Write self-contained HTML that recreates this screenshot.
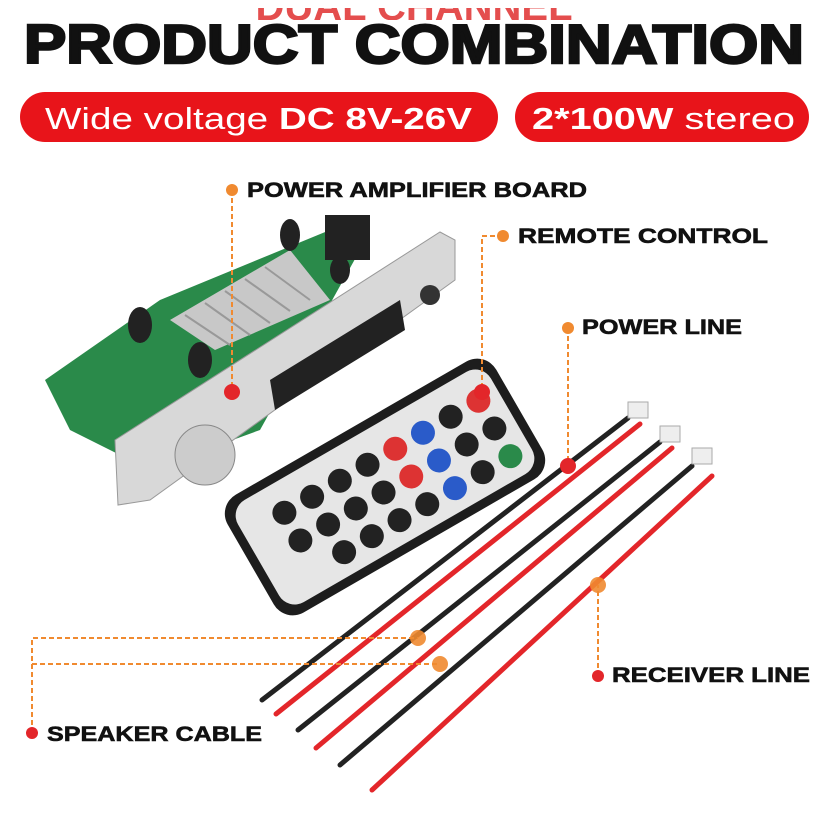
<!DOCTYPE html>
<html><head><meta charset="utf-8"><style>
body{margin:0;width:827px;height:820px;background:#fff;overflow:hidden;font-family:"Liberation Sans",sans-serif}
</style></head><body>
<svg width="827" height="820" viewBox="0 0 827 820" xmlns="http://www.w3.org/2000/svg" font-family="Liberation Sans, sans-serif">
<text x="414" y="20" text-anchor="middle" font-size="40" font-weight="900" fill="#e03030" opacity="0.85">DUAL CHANNEL</text>
<rect x="0" y="0" width="827" height="8" fill="#fff"/>
<rect x="0" y="20" width="827" height="10" fill="#fff"/>
<text x="414" y="63" text-anchor="middle" font-size="55" font-weight="900" fill="#111" stroke="#111" stroke-width="2.5" textLength="780" lengthAdjust="spacingAndGlyphs">PRODUCT COMBINATION</text>
<rect x="20" y="92" width="478" height="50" rx="25" fill="#e8141a"/>
<text x="45" y="129" font-size="31" fill="#fff" font-weight="bold" textLength="427" lengthAdjust="spacingAndGlyphs"><tspan font-weight="normal">Wide voltage </tspan>DC 8V-26V</text>
<rect x="515" y="92" width="294" height="50" rx="25" fill="#e8141a"/>
<text x="532" y="129" font-size="31" fill="#fff" font-weight="bold" textLength="263" lengthAdjust="spacingAndGlyphs">2*100W <tspan font-weight="normal">stereo</tspan></text>

<!-- board -->
<polygon points="45,380 160,300 330,230 360,250 260,430 150,470 70,430" fill="#2a8a4a"/>
<polygon points="170,320 290,250 330,300 215,350" fill="#c8c8c8"/>
<g stroke="#999" stroke-width="2">
<line x1="185" y1="315" x2="230" y2="345"/><line x1="205" y1="303" x2="250" y2="335"/><line x1="225" y1="291" x2="270" y2="323"/><line x1="245" y1="279" x2="290" y2="311"/><line x1="265" y1="267" x2="310" y2="300"/></g>
<ellipse cx="140" cy="325" rx="12" ry="18" fill="#222"/>
<ellipse cx="200" cy="360" rx="12" ry="18" fill="#222"/>
<ellipse cx="290" cy="235" rx="10" ry="16" fill="#222"/>
<ellipse cx="340" cy="270" rx="10" ry="14" fill="#222"/>
<rect x="325" y="215" width="45" height="45" fill="#222"/>
<polygon points="115,440 440,232 455,240 455,280 150,500 118,505" fill="#d8d8d8" stroke="#999"/>
<polygon points="270,380 400,300 405,330 275,410" fill="#222"/>
<circle cx="205" cy="455" r="30" fill="#ccc" stroke="#888"/>
<circle cx="430" cy="295" r="10" fill="#333"/>
<!-- remote -->
<g transform="translate(385,487) rotate(-30)">
<rect x="-155" y="-68" width="310" height="136" rx="22" fill="#1d1d1d"/>
<rect x="-146" y="-59" width="292" height="118" rx="18" fill="#e6e6e6"/>
<g fill="#222">
<circle cx="-100" cy="-28" r="12"/><circle cx="-68" cy="-28" r="12"/><circle cx="-36" cy="-28" r="12"/><circle cx="-4" cy="-28" r="12"/><circle cx="28" cy="-28" r="12" fill="#d33"/><circle cx="60" cy="-28" r="12" fill="#2a5bc9"/><circle cx="92" cy="-28" r="12"/><circle cx="124" cy="-28" r="12" fill="#d33"/>
<circle cx="-100" cy="4" r="12"/><circle cx="-68" cy="4" r="12"/><circle cx="-36" cy="4" r="12"/><circle cx="-4" cy="4" r="12"/><circle cx="28" cy="4" r="12" fill="#d33"/><circle cx="60" cy="4" r="12" fill="#2a5bc9"/><circle cx="92" cy="4" r="12"/><circle cx="124" cy="4" r="12"/>
<circle cx="-68" cy="36" r="12"/><circle cx="-36" cy="36" r="12"/><circle cx="-4" cy="36" r="12"/><circle cx="28" cy="36" r="12"/><circle cx="60" cy="36" r="12" fill="#2a5bc9"/><circle cx="92" cy="36" r="12"/><circle cx="124" cy="36" r="12" fill="#2a8a4a"/>
</g></g>
<!-- wires -->
<g stroke-width="5" stroke-linecap="round">
<line x1="262" y1="700" x2="628" y2="418" stroke="#222"/>
<line x1="276" y1="714" x2="640" y2="424" stroke="#e3262a"/>
<line x1="298" y1="730" x2="660" y2="442" stroke="#222"/>
<line x1="316" y1="748" x2="672" y2="448" stroke="#e3262a"/>
<line x1="340" y1="765" x2="692" y2="466" stroke="#222"/>
<line x1="372" y1="790" x2="712" y2="476" stroke="#e3262a"/>
</g>
<g fill="#eee" stroke="#aaa"><rect x="628" y="402" width="20" height="16"/><rect x="660" y="426" width="20" height="16"/><rect x="692" y="448" width="20" height="16"/></g>

<!-- callouts -->
<g stroke="#f08a30" stroke-width="2" stroke-dasharray="5,3" fill="none">
<path d="M232 190 V392"/>
<path d="M503 236 H482 V392"/>
<path d="M568 328 V466"/>
<path d="M598 676 V585"/>
<path d="M32 733 V638 H418 M32 664 H440"/>
</g>
<g fill="#f08a30">
<circle cx="232" cy="190" r="6"/><circle cx="503" cy="236" r="6"/><circle cx="568" cy="328" r="6"/><circle cx="598" cy="676" r="6" fill="#e3262a"/><circle cx="32" cy="733" r="6" fill="#e3262a"/>
<circle cx="598" cy="585" r="8" opacity="0.9"/><circle cx="418" cy="638" r="8" opacity="0.9"/><circle cx="440" cy="664" r="8" opacity="0.9"/>
</g>
<g fill="#e3262a"><circle cx="232" cy="392" r="8"/><circle cx="482" cy="392" r="8"/><circle cx="568" cy="466" r="8"/></g>
<g font-size="21" font-weight="bold" fill="#111" stroke="#111" stroke-width="0.6" lengthAdjust="spacingAndGlyphs">
<text x="247" y="197" textLength="340" lengthAdjust="spacingAndGlyphs">POWER AMPLIFIER BOARD</text>
<text x="518" y="243" textLength="250" lengthAdjust="spacingAndGlyphs">REMOTE CONTROL</text>
<text x="582" y="334" textLength="160" lengthAdjust="spacingAndGlyphs">POWER LINE</text>
<text x="612" y="682" textLength="198" lengthAdjust="spacingAndGlyphs">RECEIVER LINE</text>
<text x="47" y="741" textLength="215" lengthAdjust="spacingAndGlyphs">SPEAKER CABLE</text>
</g>
</svg>
</body></html>
